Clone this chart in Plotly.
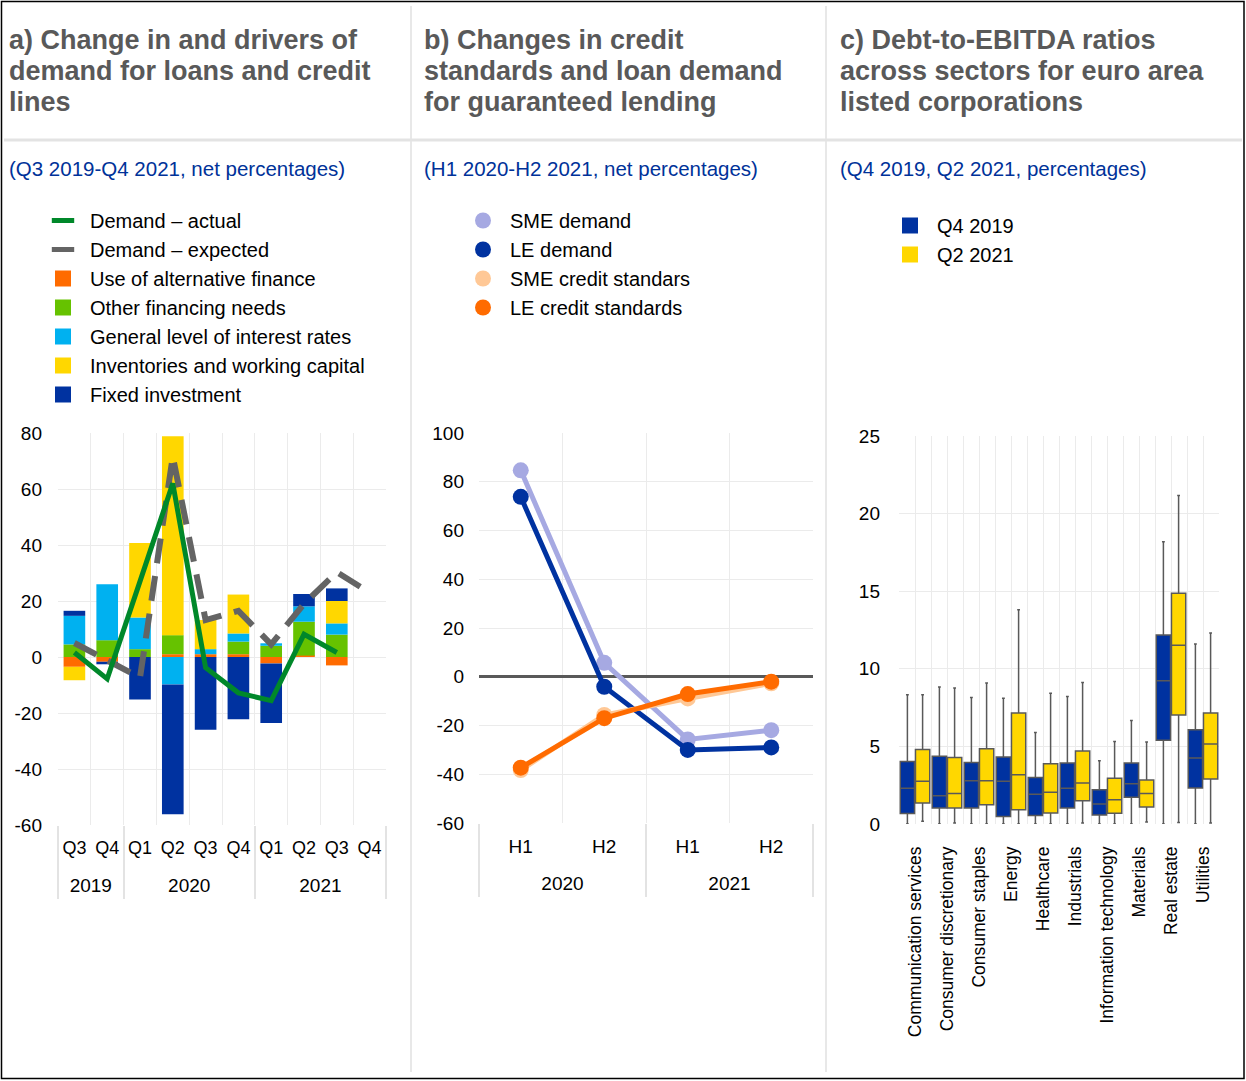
import plotly.graph_objects as go

W, H = 1246, 1081
FONT = "Arial, 'Liberation Sans', sans-serif"

# ---------------- Panel a data ----------------
quarters = ["Q3", "Q4", "Q1", "Q2", "Q3", "Q4", "Q1", "Q2", "Q3", "Q4"]
quarter_years = ["2019", "2019", "2020", "2020", "2020", "2020", "2021", "2021", "2021", "2021"]
alt_finance = [-3.5, -1.7, 0.0, 1.0, 1.0, 1.0, -2.3, 0.5, -3.0, None]
other_needs = [4.5, 6.0, 2.8, 6.8, 0.0, 4.5, 4.0, 12.1, 8.0, None]
interest_rates = [10.2, 20.0, 11.3, -9.8, 1.8, 2.9, 0.9, 5.5, 4.0, None]
inventories = [-4.8, 0.0, 26.6, 71.0, 10.4, 13.9, 0.0, 0.0, 8.0, None]
fixed_investment = [1.8, -0.9, -15.2, -46.4, -26.0, -22.2, -21.3, 4.4, 4.5, None]
demand_actual = [1.6, -7.8, 27.0, 62.0, -3.8, -12.8, -15.6, 8.1, 1.6, None]
demand_expected = [5.0, -1.0, -7.4, 71.6, 13.2, 16.5, 4.5, 19.0, 30.3, 23.0]
ya_ticks = [-60, -40, -20, 0, 20, 40, 60, 80]

# ---------------- Panel b data ----------------
halves = ["H1", "H2", "H1", "H2"]
half_years = ["2020", "2020", "2021", "2021"]
sme_demand = [84.7, 5.7, -25.7, -21.9]
le_demand = [73.8, -4.1, -30.0, -29.0]
sme_credit_std = [-38.3, -15.7, -8.9, -2.7]
le_credit_std = [-37.3, -17.0, -7.1, -2.0]
yb_ticks = [-60, -40, -20, 0, 20, 40, 60, 80, 100]

# ---------------- Panel c data ----------------
sectors = ["Communication services", "Consumer discretionary", "Consumer staples", "Energy",
           "Healthcare", "Industrials", "Information technology", "Materials", "Real estate", "Utilities"]
q4_2019_lower = [0, 0, 0, 0, 0, 0, 0, 0, 0, 0]
q4_2019_q1 = [0.67, 1.03, 1.03, 0.49, 0.54, 1.03, 0.58, 1.72, 5.39, 2.32]
q4_2019_median = [2.30, 1.82, 2.79, 2.75, 1.91, 2.30, 1.29, 2.60, 9.23, 4.25]
q4_2019_q3 = [4.03, 4.36, 3.97, 4.31, 3.00, 3.93, 2.21, 3.93, 12.17, 6.07]
q4_2019_upper = [8.33, 8.82, 8.15, 8.11, 5.90, 8.22, 4.08, 6.67, 18.18, 11.59]
q2_2021_lower = [0.17, 0.06, 0, 0, 0, 0.06, 0, 0.13, 0.10, 0.06]
q2_2021_q1 = [1.35, 1.03, 1.24, 0.92, 0.71, 1.50, 0.69, 1.09, 7.02, 2.90]
q2_2021_median = [2.75, 1.97, 2.79, 3.18, 2.04, 2.64, 1.57, 1.97, 11.52, 5.15]
q2_2021_q3 = [4.80, 4.29, 4.85, 7.15, 3.88, 4.70, 2.94, 2.83, 14.87, 7.15]
q2_2021_upper = [8.33, 8.76, 9.08, 13.80, 8.43, 9.12, 5.32, 5.28, 21.16, 12.30]

# ---------------- Colours ----------------
C_ORANGE = "#FF6B00"
C_GREEN = "#66C200"
C_LBLUE = "#00B1F0"
C_YELLOW = "#FFD700"
C_DBLUE = "#0032A0"
C_DGREEN = "#00882A"
C_GREY = "#646464"
C_LPURPLE = "#A6A9E2"
C_LORANGE = "#FFC896"
GRID = "#ebebeb"
DIVIDER = "#e3e3e3"


def group_layout(parents):
    """Centres and boundaries of the parent (year) groups along an index axis."""
    order, idx = [], {}
    for i, p in enumerate(parents):
        if p not in idx:
            idx[p] = []
            order.append(p)
        idx[p].append(i)
    centres = [sum(idx[p]) / len(idx[p]) for p in order]
    bounds = [idx[order[0]][0] - 0.5] + [idx[p][-1] + 0.5 for p in order]
    return order, centres, bounds


fig = go.Figure()


def proxy(name, group, legend, symbol, color, line=False):
    if line:
        marker = dict(symbol="line-ew", size=18, line=dict(width=5, color=color))
    else:
        marker = dict(symbol=symbol, size=17, color=color, line=dict(width=0))
    fig.add_trace(go.Scatter(x=[None], y=[None], mode="markers", name=name, legendgroup=group,
                             legend=legend, marker=marker, xaxis="x3", yaxis="y3",
                             hoverinfo="skip", showlegend=True))


# legend entries (panel a)
proxy("Demand \u2013 actual", "a_act", "legend", None, C_DGREEN, line=True)
proxy("Demand \u2013 expected", "a_exp", "legend", None, C_GREY, line=True)
proxy("Use of alternative finance", "a_alt", "legend", "square", C_ORANGE)
proxy("Other financing needs", "a_oth", "legend", "square", C_GREEN)
proxy("General level of interest rates", "a_int", "legend", "square", C_LBLUE)
proxy("Inventories and working capital", "a_inv", "legend", "square", C_YELLOW)
proxy("Fixed investment", "a_fix", "legend", "square", C_DBLUE)
# legend entries (panel b)
proxy("SME demand", "b_smed", "legend2", "circle", C_LPURPLE)
proxy("LE demand", "b_led", "legend2", "circle", C_DBLUE)
proxy("SME credit standars", "b_smec", "legend2", "circle", C_LORANGE)
proxy("LE credit standards", "b_lec", "legend2", "circle", C_ORANGE)
# legend entries (panel c)
proxy("Q4 2019", "c_19", "legend3", "square", C_DBLUE)
proxy("Q2 2021", "c_21", "legend3", "square", C_YELLOW)

# ---------------- Panel a traces ----------------
xa = list(range(len(quarters)))
for vals, col, grp, nm in [
    (alt_finance, C_ORANGE, "a_alt", "Use of alternative finance"),
    (other_needs, C_GREEN, "a_oth", "Other financing needs"),
    (interest_rates, C_LBLUE, "a_int", "General level of interest rates"),
    (inventories, C_YELLOW, "a_inv", "Inventories and working capital"),
    (fixed_investment, C_DBLUE, "a_fix", "Fixed investment"),
]:
    fig.add_trace(go.Bar(x=xa, y=vals, marker=dict(color=col, line=dict(width=0)), name=nm,
                         legendgroup=grp, showlegend=False, xaxis="x", yaxis="y"))

fig.add_trace(go.Scatter(x=xa, y=demand_expected, mode="lines", name="Demand \u2013 expected",
                         line=dict(color=C_GREY, width=6, dash="25px,13px"),
                         legendgroup="a_exp", showlegend=False, xaxis="x", yaxis="y"))
# drawn on the overlaying year axis (same range) so that axis is rendered
fig.add_trace(go.Scatter(x=xa, y=demand_actual, mode="lines", name="Demand \u2013 actual",
                         line=dict(color=C_DGREEN, width=5), connectgaps=False,
                         legendgroup="a_act", showlegend=False, xaxis="x4", yaxis="y"))

# ---------------- Panel b traces ----------------
xb = list(range(len(halves)))
for vals, col, grp, nm, xax in [
    (sme_demand, C_LPURPLE, "b_smed", "SME demand", "x2"),
    (le_demand, C_DBLUE, "b_led", "LE demand", "x2"),
    (sme_credit_std, C_LORANGE, "b_smec", "SME credit standars", "x2"),
    (le_credit_std, C_ORANGE, "b_lec", "LE credit standards", "x5"),
]:
    fig.add_trace(go.Scatter(x=xb, y=vals, mode="lines+markers", name=nm,
                             line=dict(color=col, width=5), marker=dict(color=col, size=16),
                             legendgroup=grp, showlegend=False, xaxis=xax, yaxis="y2"))

# ---------------- Panel c traces ----------------
sector_pos = list(range(len(sectors)))
for lo, q1, med, q3, up, col, grp, nm in [
    (q4_2019_lower, q4_2019_q1, q4_2019_median, q4_2019_q3, q4_2019_upper, C_DBLUE, "c_19", "Q4 2019"),
    (q2_2021_lower, q2_2021_q1, q2_2021_median, q2_2021_q3, q2_2021_upper, C_YELLOW, "c_21", "Q2 2021"),
]:
    fig.add_trace(go.Box(x=sector_pos, lowerfence=lo, q1=q1, median=med, q3=q3, upperfence=up,
                         name=nm, fillcolor=col, line=dict(color="#595959", width=1.5),
                         whiskerwidth=0.2, boxpoints=False, legendgroup=grp, showlegend=False,
                         offsetgroup=grp, xaxis="x3", yaxis="y3"))

# ---------------- Layout ----------------
def px_x(p):
    return p / W


def px_y(p):
    return 1 - p / H


tick_font = dict(family=FONT, size=19, color="#000000")

legend_common = dict(xanchor="left", yanchor="top", bgcolor="rgba(0,0,0,0)",
                     font=dict(family=FONT, size=20, color="#000000"),
                     traceorder="grouped", tracegroupgap=0, itemwidth=44)

ya_years, ya_centres, ya_bounds = group_layout(quarter_years)
yb_years, yb_centres, yb_bounds = group_layout(half_years)
ra = [-0.5, len(quarters) - 0.5]
rb = [-0.5, len(halves) - 0.5]


def year_axis(over, anchor, rng, centres, labels, bounds, fsize):
    return dict(overlaying=over, anchor=anchor, side="bottom", range=rng, automargin=False,
                tickmode="array", tickvals=centres, ticktext=labels,
                tickfont=dict(family=FONT, size=fsize, color="#000000"),
                ticklabelstandoff=47, showgrid=False, zeroline=False, showline=False, ticks="",
                minor=dict(tickmode="array", tickvals=bounds, ticks="outside", ticklen=73,
                           tickwidth=2, tickcolor=DIVIDER, showgrid=False))


def hyphen_labels(vals):
    return [str(v) for v in vals]


fig.update_layout(
    width=W, height=H,
    margin=dict(l=0, r=0, t=0, b=0, pad=0, autoexpand=False),
    paper_bgcolor="white", plot_bgcolor="white",
    font=dict(family=FONT, color="#000000"),
    barmode="relative", bargap=0.34,
    boxmode="group", boxgap=0.05, boxgroupgap=0.06,
    showlegend=True,
    legend=dict(x=px_x(36), y=px_y(201), **legend_common),
    legend2=dict(x=px_x(456), y=px_y(201), **legend_common),
    legend3=dict(x=px_x(883), y=px_y(206), **legend_common),
    xaxis=dict(domain=[px_x(58), px_x(386)], anchor="y", range=ra, automargin=False,
               tickmode="array", tickvals=xa, ticktext=quarters,
               tickfont=dict(family=FONT, size=18, color="#000000"), ticklabelstandoff=10,
               showgrid=False, zeroline=False, showline=False, ticks="",
               minor=dict(tickmode="linear", tick0=-0.5, dtick=1, showgrid=True, gridcolor=GRID)),
    xaxis4=year_axis("x", "y", ra, ya_centres, ya_years, ya_bounds, 19),
    yaxis=dict(domain=[px_y(825), px_y(433)], anchor="x", range=[-60, 80], automargin=False,
               tickmode="array", tickvals=ya_ticks, ticktext=hyphen_labels(ya_ticks),
               showgrid=True, gridcolor=GRID, zeroline=False, tickfont=tick_font,
               ticklabelstandoff=15, showline=False),
    xaxis2=dict(domain=[px_x(479), px_x(813)], anchor="y2", range=rb, automargin=False,
                tickmode="array", tickvals=xb, ticktext=halves,
                tickfont=dict(family=FONT, size=19, color="#000000"), ticklabelstandoff=10,
                showgrid=False, zeroline=False, showline=False, ticks="",
                minor=dict(tickmode="linear", tick0=-0.5, dtick=1, showgrid=True, gridcolor=GRID)),
    xaxis5=year_axis("x2", "y2", rb, yb_centres, yb_years, yb_bounds, 19),
    yaxis2=dict(domain=[px_y(823), px_y(433)], anchor="x2", range=[-60, 100], automargin=False,
                tickmode="array", tickvals=yb_ticks, ticktext=hyphen_labels(yb_ticks),
                showgrid=True, gridcolor=GRID, zeroline=True, zerolinecolor="#595959",
                zerolinewidth=3, tickfont=tick_font, ticklabelstandoff=14, showline=False),
    xaxis3=dict(domain=[px_x(899), px_x(1219)], anchor="y3", range=[-0.5, len(sectors) - 0.5],
                automargin=False,
                tickmode="array", tickvals=sector_pos, ticktext=sectors, tickangle=-90,
                tickfont=dict(family=FONT, size=17.5, color="#000000"),
                showgrid=True, gridcolor=GRID, zeroline=False, ticklabelstandoff=18,
                minor=dict(tickmode="linear", tick0=0.5, dtick=1, showgrid=True, gridcolor=GRID),
                showline=False),
    yaxis3=dict(domain=[px_y(824), px_y(436)], anchor="x3", range=[0, 25], dtick=5, automargin=False,
                showgrid=True, gridcolor=GRID, zeroline=False,
                tickfont=dict(family=FONT, size=19, color="#000000"),
                ticklabelstandoff=18, showline=False),
)

# ---------------- Titles and subtitles ----------------
titles = [
    (7, ["a) Change in and drivers of", "demand for loans and credit", "lines"],
     "(Q3 2019-Q4 2021, net percentages)"),
    (422, ["b) Changes in credit", "standards and loan demand", "for guaranteed lending"],
     "(H1 2020-H2 2021, net percentages)"),
    (838, ["c) Debt-to-EBITDA ratios", "across sectors for euro area", "listed corporations"],
     "(Q4 2019, Q2 2021, percentages)"),
]
annotations = []
for xpix, lines, sub in titles:
    for i, ln in enumerate(lines):
        annotations.append(dict(x=px_x(xpix), y=px_y(40 + 31 * i), xref="paper", yref="paper",
                                xanchor="left", yanchor="middle", showarrow=False, text=ln,
                                font=dict(family=FONT, size=27, color="#595959", weight="bold")))
    annotations.append(dict(x=px_x(xpix), y=px_y(168), xref="paper", yref="paper",
                            xanchor="left", yanchor="middle", showarrow=False, text=sub,
                            font=dict(family=FONT, size=20.5, color="#003299")))
fig.update_layout(annotations=annotations)

# ---------------- Frame and separators ----------------
shapes = [
    dict(type="rect", xref="paper", yref="paper", x0=px_x(1.5), x1=px_x(1244), y0=px_y(1078.5), y1=px_y(1.5),
         line=dict(color="#000000", width=1.5), fillcolor="rgba(0,0,0,0)", layer="above"),
    dict(type="line", xref="paper", yref="paper", x0=px_x(411), x1=px_x(411), y0=px_y(1072), y1=px_y(6),
         line=dict(color="#e8e8e8", width=2)),
    dict(type="line", xref="paper", yref="paper", x0=px_x(826), x1=px_x(826), y0=px_y(1072), y1=px_y(6),
         line=dict(color="#e8e8e8", width=2)),
    dict(type="line", xref="paper", yref="paper", x0=px_x(4), x1=px_x(1242), y0=px_y(140), y1=px_y(140),
         line=dict(color="#e3e3e3", width=3)),
]
fig.update_layout(shapes=shapes)

fig.write_html("out.html", config={"displayModeBar": False},
               post_script="document.body.style.margin='0';")
